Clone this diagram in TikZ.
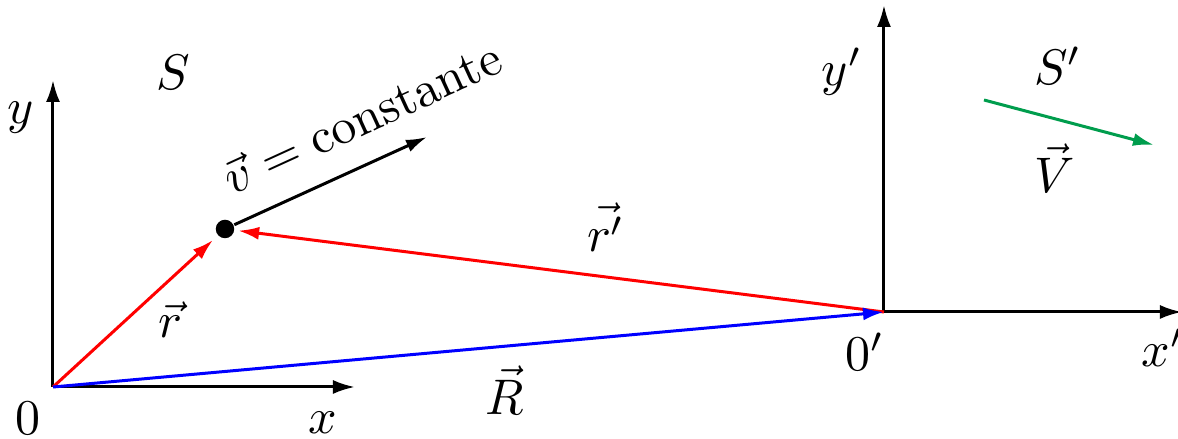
\documentclass[tikz,border=0pt]{standalone}
\usepackage{amsmath}
\usepackage{tikz}
\usetikzlibrary{arrows.meta}
\definecolor{vgreen}{RGB}{0,157,77}

\begin{document}
\begin{tikzpicture}[x=0.2pt,y=-0.2pt,
		axis/.style={black,line width=0.6pt,-{Latex[length=4.4pt,width=2.8pt]}},
		vecarrow/.style={line width=0.6pt,-{Latex[length=4.2pt,width=2.6pt]}}]
				\useasboundingbox (0,0) rectangle (1178,439);
				% referentiel S
				\coordinate (O) at (53,387);
				\coordinate (xend) at (355,387);
				\coordinate (yend) at (53,80);
				\draw[axis] (O) -- (xend);
				\draw[axis] (O) -- (yend);
				\node (lO) at (28,418) {$0$};
				\node (lx) at (323,423) {$x$};
				\node (ly) at (21,118) {$y$};
				\node (lS) at (173,72) {$S$};
				% referentiel S'
				\coordinate (Op) at (884,312);
				\coordinate (xpend) at (1182,312);
				\coordinate (ypend) at (884,5);
				\draw[axis] (Op) -- (xpend);
				\draw[axis] (Op) -- (ypend);
				\node (lOp) at (865,352) {$0'$};
				\node (lxp) at (1163,348) {$x'$};
				\node (lyp) at (842,72) {$y'$};
				\node (lSp) at (1058,66) {$S'$};
				% particule
				\node[circle,fill=black,inner sep=0pt,minimum size=3.7pt] (P) at (225,229) {};
				\coordinate (vend) at (427,137);
				\draw[vecarrow,black] (P) -- (vend);
				\node[rotate=24.6] (lv) at (362,117) {$\vec{v} = \text{constante}$};
				\draw[vecarrow,red,shorten >=1.2pt] (O) -- (P);
				\draw[vecarrow,red,shorten >=0.6pt] (Op) -- (P);
				\draw[vecarrow,blue] (O) -- (Op);
				\node (lr) at (170,320) {$\vec{r}$};
				\node (lrp) at (606,227) {$\vec{r'}$};
				\node (lR) at (505,390) {$\vec{R}$};
				% vitesse de S'
				\coordinate (Vstart) at (984,100);
				\coordinate (Vend) at (1154,145);
				\draw[vecarrow,vgreen] (Vstart) -- (Vend);
				\node (lV) at (1055,168) {$\vec{V}$};
			\end{tikzpicture}
\end{document}
